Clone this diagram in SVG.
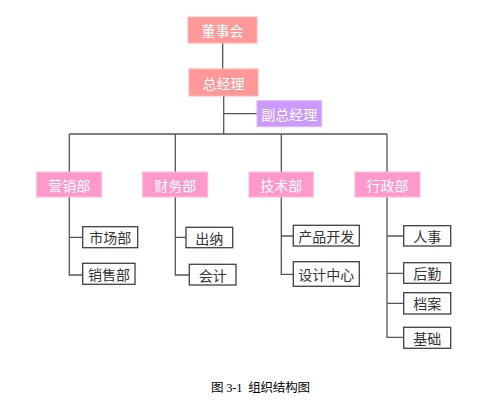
<svg xmlns="http://www.w3.org/2000/svg" width="481" height="406" viewBox="0 0 481 406">
<style>
.t{font-family:"Noto Sans CJK SC","Noto Sans",sans-serif;font-size:14px;text-anchor:middle;dominant-baseline:central}
.w{fill:#fff}
.k{fill:#333}
.top{fill:#ff9999;stroke:#ffb3b3;stroke-width:1}
.vp{fill:#cc99ff;stroke:#dcb8ff;stroke-width:1}
.dep{fill:#ff99cc;stroke:#ffb8dc;stroke-width:1}
.leaf{fill:#fff;stroke:#404040;stroke-width:1.3}
.ln{fill:none;stroke:#555;stroke-width:1.3}
.cap{font-family:"Liberation Serif","Noto Sans CJK SC",serif;font-size:12.5px;fill:#000;white-space:pre;font-weight:normal}
</style>
<rect width="481" height="406" fill="#fff"/>
<g id="connectors" class="ln">
<path d="M222.7 43V69"/>
<path d="M223.7 96V134"/>
<path d="M223.7 113.7H257"/>
<path d="M69.3 134H387"/>
<path d="M69.3 134V172M175.3 134V172M281.3 134V172M387 134V172"/>
<path d="M69.3 197V275H82.7M69.3 237.3H82.7"/>
<path d="M175.3 197V275H189.3M175.3 237.3H186"/>
<path d="M281.3 197V274.3H293.3M281.3 236H293.3"/>
<path d="M387 197V337.3H403.7M387 236H403.7M387 273.3H403.7M387 303.3H403.7"/>
</g>
<g id="n-board"><rect class="top" x="188" y="17" width="69" height="26"/><text class="t w" x="222.5" y="30">董事会</text></g>
<g id="n-gm"><rect class="top" x="189" y="69" width="69" height="27"/><text class="t w" x="223.5" y="82.5">总经理</text></g>
<g id="n-vgm"><rect class="vp" x="257" y="100.7" width="64.7" height="26"/><text class="t w" x="289.3" y="113.7">副总经理</text></g>
<g id="n-mkt"><rect class="dep" x="36.7" y="172" width="65" height="25"/><text class="t w" x="69.2" y="184.5">营销部</text></g>
<g id="n-fin"><rect class="dep" x="142.7" y="172" width="65" height="25"/><text class="t w" x="175.2" y="184.5">财务部</text></g>
<g id="n-tech"><rect class="dep" x="249" y="172" width="64.3" height="25"/><text class="t w" x="281.2" y="184.5">技术部</text></g>
<g id="n-adm"><rect class="dep" x="355" y="172" width="65" height="25"/><text class="t w" x="387.5" y="184.5">行政部</text></g>
<g id="n-market"><rect class="leaf" x="82.7" y="226.7" width="55" height="21"/><text class="t k" x="110.2" y="237.2">市场部</text></g>
<g id="n-sales"><rect class="leaf" x="82.7" y="263.3" width="52.3" height="21"/><text class="t k" x="108.9" y="273.8">销售部</text></g>
<g id="n-cashier"><rect class="leaf" x="186" y="227.3" width="46.7" height="20.4"/><text class="t k" x="209.3" y="237.5">出纳</text></g>
<g id="n-acct"><rect class="leaf" x="189.3" y="264.3" width="46.7" height="20.7"/><text class="t k" x="212.7" y="274.6">会计</text></g>
<g id="n-prod"><rect class="leaf" x="293.3" y="225.3" width="66" height="20.7"/><text class="t k" x="326.3" y="235.6">产品开发</text></g>
<g id="n-design"><rect class="leaf" x="293.3" y="261.7" width="66" height="24.6"/><text class="t k" x="326.3" y="274">设计中心</text></g>
<g id="n-hr"><rect class="leaf" x="403.7" y="225.7" width="47" height="20.3"/><text class="t k" x="427.2" y="235.8">人事</text></g>
<g id="n-log"><rect class="leaf" x="403.7" y="262.7" width="47" height="20.6"/><text class="t k" x="427.2" y="273">后勤</text></g>
<g id="n-arch"><rect class="leaf" x="403.7" y="292.7" width="47" height="21.3"/><text class="t k" x="427.2" y="303.3">档案</text></g>
<g id="n-base"><rect class="leaf" x="403.7" y="327.3" width="47" height="21"/><text class="t k" x="427.2" y="337.8">基础</text></g>
<text class="cap" x="211" y="392" xml:space="preserve" textLength="99" lengthAdjust="spacing">图 3-1  组织结构图</text>
</svg>
